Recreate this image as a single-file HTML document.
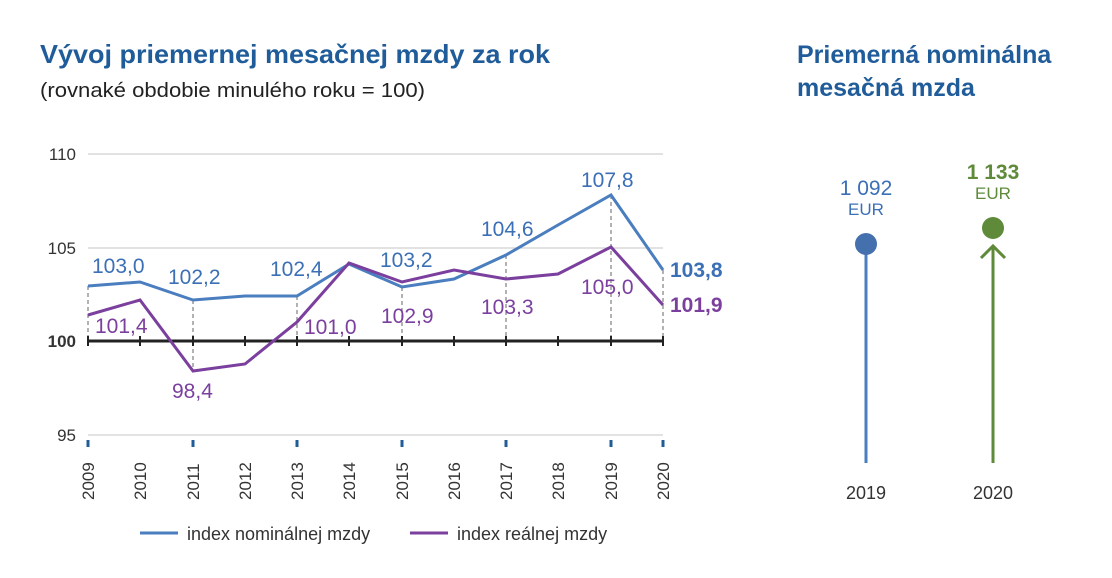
<!DOCTYPE html>
<html><head><meta charset="utf-8"><style>
body{margin:0;background:#fff;width:1112px;height:573px;overflow:hidden;font-family:"Liberation Sans",sans-serif}
</style></head><body>
<svg width="1112" height="573" xmlns="http://www.w3.org/2000/svg" font-family="Liberation Sans, sans-serif">
<text x="40" y="63" font-size="26" font-weight="bold" fill="#1f5c99" textLength="510" lengthAdjust="spacingAndGlyphs">Vývoj priemernej mesačnej mzdy za rok</text>
<text x="40" y="97" font-size="20" fill="#222" textLength="385" lengthAdjust="spacingAndGlyphs">(rovnaké obdobie minulého roku = 100)</text>
<text x="797" y="63" font-size="25" font-weight="bold" fill="#1f5c99">Priemerná nominálna</text>
<text x="797" y="96" font-size="25" font-weight="bold" fill="#1f5c99">mesačná mzda</text>
<g stroke="#d0d0d0" stroke-width="1.3">
<line x1="88" y1="154" x2="663" y2="154"/><line x1="88" y1="248" x2="663" y2="248"/><line x1="88" y1="435" x2="663" y2="435"/>
</g>
<g font-size="17" fill="#333" text-anchor="end">
<text x="76" y="160">110</text><text x="76" y="254">105</text><text x="76" y="347" font-weight="bold">100</text><text x="76" y="441">95</text>
</g>
<g stroke="#888" stroke-width="1.3" stroke-dasharray="4,3">
<line x1="88" y1="286" x2="88" y2="341"/><line x1="193" y1="300" x2="193" y2="371"/><line x1="297" y1="296" x2="297" y2="341"/>
<line x1="402" y1="287" x2="402" y2="341"/><line x1="506" y1="255" x2="506" y2="341"/><line x1="611" y1="195" x2="611" y2="341"/><line x1="663" y1="270" x2="663" y2="341"/>
</g>
<line x1="88" y1="341" x2="663" y2="341" stroke="#222" stroke-width="3"/>
<g stroke="#222" stroke-width="2">
<line x1="88" y1="336" x2="88" y2="346"/><line x1="140" y1="336" x2="140" y2="346"/><line x1="193" y1="336" x2="193" y2="346"/><line x1="245" y1="336" x2="245" y2="346"/><line x1="297" y1="336" x2="297" y2="346"/><line x1="349" y1="336" x2="349" y2="346"/><line x1="402" y1="336" x2="402" y2="346"/><line x1="454" y1="336" x2="454" y2="346"/><line x1="506" y1="336" x2="506" y2="346"/><line x1="558" y1="336" x2="558" y2="346"/><line x1="611" y1="336" x2="611" y2="346"/><line x1="663" y1="336" x2="663" y2="346"/>
</g>
<g stroke="#1f5c99" stroke-width="3">
<line x1="88" y1="440" x2="88" y2="447"/><line x1="193" y1="440" x2="193" y2="447"/><line x1="297" y1="440" x2="297" y2="447"/><line x1="402" y1="440" x2="402" y2="447"/><line x1="506" y1="440" x2="506" y2="447"/><line x1="611" y1="440" x2="611" y2="447"/><line x1="663" y1="440" x2="663" y2="447"/>
</g>
<g font-size="17" fill="#333">
<text transform="translate(94,500) rotate(-90)">2009</text><text transform="translate(146,500) rotate(-90)">2010</text><text transform="translate(199,500) rotate(-90)">2011</text><text transform="translate(251,500) rotate(-90)">2012</text><text transform="translate(303,500) rotate(-90)">2013</text><text transform="translate(355,500) rotate(-90)">2014</text><text transform="translate(408,500) rotate(-90)">2015</text><text transform="translate(460,500) rotate(-90)">2016</text><text transform="translate(512,500) rotate(-90)">2017</text><text transform="translate(564,500) rotate(-90)">2018</text><text transform="translate(617,500) rotate(-90)">2019</text><text transform="translate(669,500) rotate(-90)">2020</text>
</g>
<polyline fill="none" stroke="#4a7ebf" stroke-width="3" points="88,286 140,282 193,300 245,296 297,296 349,264 402,287 454,279 506,255 558,225 611,195 663,270"/>
<polyline fill="none" stroke="#7b3f9e" stroke-width="3" points="88,315 140,300 193,371 245,364 297,322 349,263 402,282 454,270 506,279 558,274 611,247 663,305"/>
<g font-size="21" fill="#3b6fb6">
<text x="92" y="273">103,0</text><text x="168" y="284">102,2</text><text x="270" y="276">102,4</text><text x="380" y="267">103,2</text><text x="481" y="236">104,6</text><text x="581" y="187">107,8</text>
<text x="670" y="277" font-weight="bold">103,8</text>
</g>
<g font-size="21" fill="#7b3f9e">
<text x="95" y="333">101,4</text><text x="172" y="398">98,4</text><text x="304" y="334">101,0</text><text x="381" y="323">102,9</text><text x="481" y="314">103,3</text><text x="581" y="294">105,0</text>
<text x="670" y="312" font-weight="bold">101,9</text>
</g>
<line x1="140" y1="533" x2="178" y2="533" stroke="#4a7ebf" stroke-width="3"/>
<text x="187" y="540" font-size="18" fill="#333">index nominálnej mzdy</text>
<line x1="410" y1="533" x2="448" y2="533" stroke="#7b3f9e" stroke-width="3"/>
<text x="457" y="540" font-size="18" fill="#333">index reálnej mzdy</text>
<line x1="866" y1="244" x2="866" y2="463" stroke="#4a7ebf" stroke-width="3"/>
<circle cx="866" cy="244" r="11" fill="#4470ad"/>
<text x="866" y="195" font-size="21" fill="#3b6fb6" text-anchor="middle">1 092</text>
<text x="866" y="215" font-size="17" fill="#3b6fb6" text-anchor="middle">EUR</text>
<line x1="993" y1="247" x2="993" y2="463" stroke="#5e8a3a" stroke-width="3"/>
<polyline points="981,258 993,246 1005,258" fill="none" stroke="#5e8a3a" stroke-width="3"/>
<circle cx="993" cy="228" r="11" fill="#5e8a3a"/>
<text x="993" y="179" font-size="21" font-weight="bold" fill="#5e8a3a" text-anchor="middle">1 133</text>
<text x="993" y="199" font-size="17" fill="#5e8a3a" text-anchor="middle">EUR</text>
<text x="866" y="499" font-size="18" fill="#333" text-anchor="middle">2019</text>
<text x="993" y="499" font-size="18" fill="#333" text-anchor="middle">2020</text>
</svg>
</body></html>
